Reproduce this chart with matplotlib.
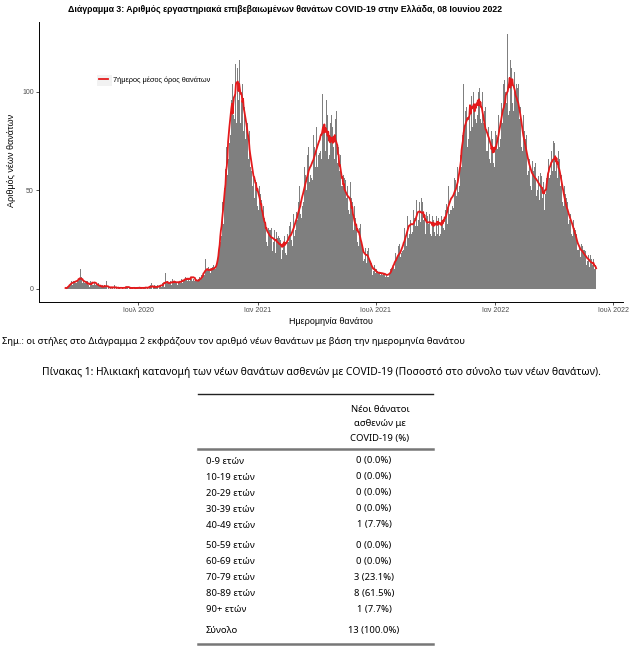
import numpy as np
import pandas as pd
import matplotlib
matplotlib.use("Agg")
import matplotlib.pyplot as plt
from matplotlib.lines import Line2D
from matplotlib.patches import Rectangle

# Daily deaths by date of death, starting 11 March 2020
START_DATE = "2020-03-11"
daily_deaths = [
    0, 1, 0, 1, 0, 1, 2,
    3, 2, 4, 3, 2, 4, 3,
    4, 3, 5, 3, 4, 5, 4,
    5, 4, 10, 4, 6, 3, 5,
    4, 3, 5, 3, 4, 2, 4,
    2, 3, 1, 4, 2, 3, 2,
    3, 2, 7, 3, 2, 4, 2,
    2, 1, 3, 2, 1, 2, 1,
    1, 2, 1, 0, 2, 1, 1,
    4, 1, 0, 1, 2, 0, 1,
    1, 0, 1, 1, 0, 2, 1,
    0, 1, 1, 0, 1, 0, 1,
    1, 0, 0, 1, 1, 0, 1,
    0, 1, 0, 1, 1, 3, 0,
    1, 0, 1, 0, 0, 1, 1,
    0, 1, 0, 1, 0, 0, 1,
    1, 0, 1, 1, 0, 1, 0,
    0, 1, 1, 0, 1, 1, 0,
    1, 1, 0, 1, 0, 2, 3,
    1, 0, 1, 1, 2, 1, 0,
    1, 2, 1, 0, 2, 1, 2,
    2, 1, 3, 2, 2, 1, 3,
    8, 3, 2, 4, 3, 2, 3,
    4, 3, 2, 5, 3, 4, 3,
    3, 4, 5, 3, 2, 4, 3,
    3, 4, 3, 5, 4, 3, 4,
    5, 4, 6, 4, 5, 7, 4,
    5, 6, 4, 5, 6, 5, 4,
    12, 5, 4, 6, 5, 4, 3,
    4, 5, 3, 6, 4, 5, 7,
    5, 6, 7, 8, 7, 15, 9,
    9, 10, 8, 11, 9, 12, 8,
    10, 9, 11, 9, 12, 10, 11,
    10, 12, 11, 13, 16, 19, 22,
    24, 35, 27, 44, 38, 33, 51,
    46, 61, 50, 72, 58, 82, 66,
    74, 121, 78, 96, 80, 104, 88,
    90, 86, 114, 118, 84, 112, 122,
    96, 88, 116, 84, 110, 95, 104,
    98, 80, 92, 96, 76, 84, 90,
    84, 66, 74, 80, 62, 70, 60,
    66, 52, 58, 64, 46, 55, 57,
    54, 42, 56, 40, 52, 44, 48,
    45, 33, 38, 42, 30, 36, 34,
    34, 24, 35, 22, 31, 26, 30,
    30, 20, 31, 19, 28, 24, 30,
    28, 18, 29, 17, 26, 27, 23,
    26, 17, 25, 15, 28, 20, 24,
    20, 27, 18, 29, 17, 28, 22,
    24, 32, 21, 34, 25, 31, 22,
    28, 38, 27, 41, 30, 39, 30,
    35, 44, 34, 52, 38, 48, 36,
    42, 58, 44, 62, 46, 58, 47,
    50, 68, 52, 72, 54, 66, 58,
    56, 74, 55, 78, 60, 72, 62,
    64, 82, 62, 86, 68, 80, 69,
    70, 90, 66, 99, 74, 80, 81,
    84, 70, 96, 72, 88, 66, 84,
    68, 84, 64, 88, 66, 82, 72,
    80, 66, 86, 70, 90, 64, 68,
    72, 60, 54, 68, 52, 66, 52,
    58, 44, 56, 42, 55, 46, 48,
    52, 40, 50, 38, 54, 42, 46,
    44, 33, 30, 42, 28, 36, 32,
    34, 24, 33, 22, 31, 26, 33,
    24, 16, 22, 14, 21, 15, 21,
    20, 13, 19, 12, 21, 14, 17,
    14, 8, 13, 7, 14, 9, 12,
    9, 8, 10, 7, 9, 8, 9,
    8, 7, 9, 8, 7, 9, 8,
    7, 8, 6, 9, 7, 6, 8,
    6, 8, 7, 10, 9, 8, 11,
    11, 16, 10, 18, 12, 15, 16,
    14, 22, 15, 23, 16, 18, 18,
    19, 28, 20, 31, 21, 27, 22,
    27, 37, 26, 40, 28, 35, 31,
    28, 39, 29, 40, 27, 36, 32,
    33, 45, 32, 47, 35, 44, 37,
    34, 46, 32, 44, 35, 42, 36,
    38, 28, 39, 27, 37, 33, 34,
    38, 28, 40, 27, 37, 30, 35,
    29, 38, 27, 37, 34, 28, 38,
    36, 27, 39, 28, 37, 29, 35,
    31, 42, 30, 40, 33, 43, 33,
    36, 52, 38, 53, 40, 50, 40,
    42, 58, 41, 56, 44, 55, 47,
    47, 62, 49, 66, 52, 68, 62,
    62, 78, 66, 104, 70, 82, 90,
    74, 92, 72, 112, 76, 90, 86,
    80, 98, 110, 82, 100, 84, 90,
    86, 104, 84, 106, 88, 100, 85,
    102, 86, 106, 84, 100, 82, 84,
    90, 72, 92, 70, 88, 70, 82,
    82, 66, 84, 64, 80, 62, 76,
    64, 76, 62, 80, 66, 78, 71,
    70, 88, 72, 92, 76, 94, 82,
    84, 104, 82, 106, 86, 100, 94,
    90, 129, 88, 110, 90, 116, 104,
    112, 94, 118, 90, 110, 96, 100,
    104, 86, 102, 84, 104, 86, 96,
    92, 72, 90, 70, 88, 68, 80,
    76, 62, 78, 58, 74, 60, 66,
    66, 52, 68, 50, 65, 52, 60,
    62, 48, 64, 47, 61, 50, 57,
    58, 45, 59, 44, 57, 46, 55,
    54, 44, 40, 48, 52, 56, 58,
    54, 66, 56, 68, 58, 70, 62,
    60, 75, 58, 74, 60, 72, 64,
    68, 56, 70, 54, 66, 52, 61,
    58, 44, 56, 42, 52, 40, 48,
    46, 34, 44, 33, 42, 35, 39,
    38, 28, 36, 27, 35, 29, 31,
    30, 21, 28, 20, 27, 20, 22,
    23, 16, 23, 15, 22, 17, 20,
    20, 13, 19, 12, 19, 14, 17,
    16, 11, 17, 10, 15, 12, 14,
    15, 10, 14, 12, 6,
]

x_tick_dates = ["2020-07-01", "2021-01-01", "2021-07-01", "2022-01-01", "2022-07-01"]
x_tick_labels = ["Ιουλ 2020", "Ιαν 2021", "Ιουλ 2021", "Ιαν 2022", "Ιουλ 2022"]
y_ticks = [0, 50, 100]

# Table 1: age breakdown of new deaths
age_groups = ["0-9 ετών", "10-19 ετών", "20-29 ετών", "30-39 ετών", "40-49 ετών",
              "50-59 ετών", "60-69 ετών", "70-79 ετών", "80-89 ετών", "90+ ετών", "Σύνολο"]
new_deaths = [0, 0, 0, 0, 1, 0, 0, 3, 8, 1, 13]
new_deaths_pct = [0.0, 0.0, 0.0, 0.0, 7.7, 0.0, 0.0, 23.1, 61.5, 7.7, 100.0]

TITLE = "Διάγραμμα 3: Αριθμός εργαστηριακά επιβεβαιωμένων θανάτων COVID-19 στην Ελλάδα, 08 Ιουνίου 2022"
NOTE = "Σημ.: οι στήλες στο Διάγραμμα 2 εκφράζουν τον αριθμό νέων θανάτων με βάση την ημερομηνία θανάτου"
TABLE_TITLE = ("Πίνακας 1: Ηλικιακή κατανομή των νέων θανάτων ασθενών με COVID-19 "
               "(Ποσοστό στο σύνολο των νέων θανάτων).")
HEADER = ["Νέοι θάνατοι", "ασθενών με", "COVID-19 (%)"]

W, H = 643, 654
CHART_FONT = ["Liberation Sans", "DejaVu Sans"]
DOC_FONT = ["Noto Sans", "DejaVu Sans"]

dates = pd.date_range(START_DATE, periods=len(daily_deaths), freq="D")
deaths = pd.Series(daily_deaths, index=dates)
avg7 = deaths.rolling(7, center=True, min_periods=1).mean()

fig = plt.figure(figsize=(W / 100, H / 100), dpi=100)

# chart panel (pixel box measured on the reference)
left, right, top, bottom = 39, 622.7, 21.7, 301.7
ax = fig.add_axes([left / W, 1 - bottom / H, (right - left) / W, (bottom - top) / H])
ax.set_facecolor("none")
ax.bar(dates, daily_deaths, width=1.0, color="#7f7f7f", linewidth=0, antialiased=False)
ax.plot(dates, avg7.values, color="#e41a1c", lw=1.3,
        label="7ήμερος μέσος όρος θανάτων")

span = (dates[-1] - dates[0]) * 0.05
ax.set_xlim(dates[0] - span, dates[-1] + span)
ymax = max(daily_deaths)
ax.set_ylim(-0.05 * ymax, 1.05 * ymax)

ax.set_xticks(pd.to_datetime(x_tick_dates))
ax.set_xticklabels(x_tick_labels, family=CHART_FONT, fontsize=5, color="#4d4d4d")
ax.set_yticks(y_ticks)
ax.set_yticklabels([str(v) for v in y_ticks], family=CHART_FONT, fontsize=5, color="#4d4d4d")
ax.tick_params(length=2.2, width=0.6, pad=1.5, color="#333333")
for side in ["top", "right"]:
    ax.spines[side].set_visible(False)
for side in ["left", "bottom"]:
    ax.spines[side].set_linewidth(0.7)

leg = ax.legend(loc="center left", bbox_to_anchor=(92 / W, 1 - 80 / H),
                bbox_transform=fig.transFigure, frameon=False,
                prop={"family": CHART_FONT, "size": 5.3},
                handlelength=1.3, handletextpad=0.7)

# faint grey legend key box, as in the ggplot original
fig.patches.append(Rectangle((97 / W, 1 - 86 / H), 15 / W, 11 / H,
                             transform=fig.transFigure, facecolor="#f2f2f2",
                             edgecolor="none", zorder=-1))

fig.text(285 / W, 1 - 10 / H, TITLE, ha="center", va="center",
         fontsize=6.3, fontweight="bold", family=CHART_FONT)
fig.text(12 / W, 1 - 160 / H, "Αριθμός νέων θανάτων", rotation=90,
         ha="center", va="center", fontsize=6.5, family=CHART_FONT)
fig.text(331 / W, 1 - 322 / H, "Ημερομηνία θανάτου", ha="center", va="center",
         fontsize=6.5, family=CHART_FONT)

# lower part: note, table title and table, drawn in pixel coordinates
ov = fig.add_axes([0, 0, 1, 1])
ov.set_xlim(0, W)
ov.set_ylim(H, 0)
ov.axis("off")

ov.text(2, 342, NOTE, ha="left", va="center", fontsize=6.75, family=DOC_FONT)
ov.text(321, 372, TABLE_TITLE, ha="center", va="center", fontsize=7.45, family=DOC_FONT)

tx0, tx1 = 198, 433
ov.add_line(Line2D([tx0, tx1], [394, 394], color="#222222", lw=1.0))
for yy, line in zip([409, 423.5, 438.5], HEADER):
    ov.text(380, yy, line, ha="center", va="center", fontsize=6.8, family=DOC_FONT)
ov.add_line(Line2D([tx0, tx1], [449, 449], color="#777777", lw=1.8))

row_y = []
y = 461
for i in range(len(age_groups)):
    if i == 5:
        y += 4.5
    if i == 10:
        y += 5
    row_y.append(y)
    y += 16
for name, n, p, yy in zip(age_groups, new_deaths, new_deaths_pct, row_y):
    ov.text(206, yy, name, ha="left", va="center", fontsize=6.8, family=DOC_FONT)
    ov.text(374, yy, f"{n} ({p:.1f}%)", ha="center", va="center", fontsize=6.8, family=DOC_FONT)
ov.add_line(Line2D([tx0, tx1], [643.5, 643.5], color="#777777", lw=1.8))

fig.savefig("out.png", dpi=100)
